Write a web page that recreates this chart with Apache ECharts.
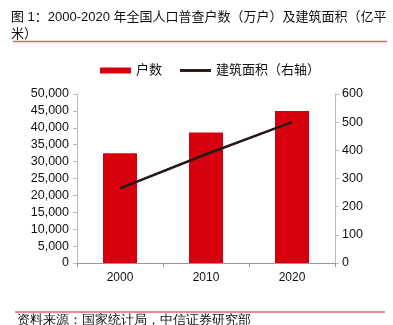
<!DOCTYPE html>
<html>
<head>
<meta charset="utf-8">
<script src="https://cdn.jsdelivr.net/npm/echarts@6/dist/echarts.min.js"></script>
<style>html,body{margin:0;padding:0;background:#fff}#c{width:393px;height:325px}</style>
</head>
<body>
<div id="c"></div>
<script>
var categories = ['2000', '2010', '2020'];
var households = [32500, 38600, 45000];
var floorArea = [265, 386, 500];
var leftTicks = [0, 50000, 5000];
var rightTicks = [0, 600, 100];

var FONT = '"Liberation Sans", "Noto Sans CJK SC", sans-serif';
var chart = echarts.init(document.getElementById('c'), null, {renderer: 'canvas'});
function fmt(v) { return String(v).replace(/\B(?=(\d{3})+(?!\d))/g, ','); }
chart.setOption({
  animation: false,
  backgroundColor: '#fff',
  textStyle: {fontFamily: FONT},
  title: {
    text: '图 1：2000-2020 年全国人口普查户数（万户）及建筑面积（亿平\n米）',
    left: 6, top: 4,
    textStyle: {fontSize: 13, fontWeight: 'normal', color: '#111', lineHeight: 17, fontFamily: FONT}
  },
  graphic: [
    {type: 'line', shape: {x1: 13, y1: 41.5, x2: 387, y2: 41.5}, style: {stroke: '#e06666', lineWidth: 1.5}},
    {type: 'line', shape: {x1: 15, y1: 312, x2: 385, y2: 312}, style: {stroke: '#e06666', lineWidth: 1.5}},
    {type: 'text', left: 17, top: 314, style: {text: '资料来源：国家统计局，中信证券研究部', fontSize: 13, fill: '#111', font: '13px ' + FONT}}
  ],
  legend: {
    left: 95, top: 59,
    itemGap: 18,
    itemWidth: 31, itemHeight: 6,
    textStyle: {fontSize: 13, color: '#111'},
    data: [
      {name: '户数', icon: 'rect'},
      {name: '建筑面积（右轴）', icon: 'path://M0,0H32V3H0Z', itemStyle: {color: '#231815'}}
    ]
  },
  grid: {left: 77, right: 58, top: 94, bottom: 62, containLabel: false},
  xAxis: {
    type: 'category',
    data: categories,
    axisLine: {lineStyle: {color: '#999', width: 1}},
    axisTick: {show: true, length: 4, lineStyle: {color: '#999'}, alignWithLabel: false},
    axisLabel: {fontSize: 12, color: '#111', margin: 9}
  },
  yAxis: [
    {
      type: 'value', min: leftTicks[0], max: leftTicks[1], interval: leftTicks[2],
      axisLine: {show: true, lineStyle: {color: '#bbb'}},
      axisTick: {show: true, length: 4, lineStyle: {color: '#bbb'}},
      splitLine: {show: false},
      axisLabel: {fontSize: 12.5, color: '#111', margin: 8, formatter: fmt}
    },
    {
      type: 'value', min: rightTicks[0], max: rightTicks[1], interval: rightTicks[2],
      position: 'right',
      axisLine: {show: true, lineStyle: {color: '#bbb'}},
      axisTick: {show: true, length: 4, lineStyle: {color: '#bbb'}},
      splitLine: {show: false},
      axisLabel: {fontSize: 12.5, color: '#111', margin: 7}
    }
  ],
  series: [
    {
      name: '户数', type: 'bar', data: households, barWidth: 34,
      itemStyle: {color: '#d7000f'}
    },
    {
      name: '建筑面积（右轴）', type: 'line', yAxisIndex: 1, data: floorArea,
      symbol: 'none', lineStyle: {color: '#231815', width: 2.5},
      itemStyle: {color: '#231815'}
    }
  ]
});
</script>
</body>
</html>
